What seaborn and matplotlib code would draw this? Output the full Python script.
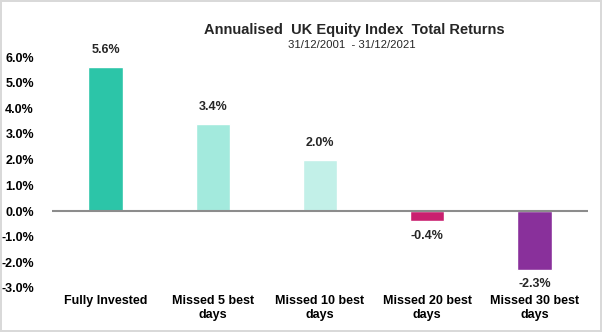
import matplotlib
matplotlib.use("Agg")
import matplotlib.pyplot as plt
import seaborn as sns
import pandas as pd

categories = ["Fully Invested", "Missed 5 best\ndays", "Missed 10 best\ndays",
              "Missed 20 best\ndays", "Missed 30 best\ndays"]
returns = [5.6, 3.4, 2.0, -0.4, -2.3]
colors = ["#2CC5A8", "#A3EADD", "#C2F0E8", "#C9206F", "#89309B"]
y_ticks = [6.0, 5.0, 4.0, 3.0, 2.0, 1.0, 0.0, -1.0, -2.0, -3.0]
title = "Annualised  UK Equity Index  Total Returns"
subtitle = "31/12/2001  - 31/12/2021"

sns.set_theme(style="white")
plt.rcParams["font.family"] = ["Liberation Sans", "DejaVu Sans"]

df = pd.DataFrame({"category": categories, "value": returns})

fig = plt.figure(figsize=(6.02, 3.32), dpi=100)
fig.patch.set_facecolor("white")
fig.patch.set_edgecolor("#D9D9D9")
fig.patch.set_linewidth(1.5)

ax = fig.add_axes([52 / 602, 1 - 288 / 332, (588 - 52) / 602, (288 - 57) / 332])
sns.barplot(data=df, x="category", y="value", hue="category", palette=colors,
            legend=False, width=0.32, ax=ax, saturation=1)

ax.set_xlim(-0.5, 4.5)
ax.set_ylim(-3.0, 6.0)
ax.set_yticks(y_ticks)
ax.set_yticklabels([f"{v:.1f}%" for v in y_ticks], fontweight="bold", fontsize=9)
ax.set_xticks(range(len(categories)))
ax.set_xticklabels(categories, fontweight="bold", fontsize=9, linespacing=1.25)
ax.tick_params(axis="y", length=0, pad=13, colors="black")
ax.tick_params(axis="x", length=0, pad=5, colors="black")
ax.set_xlabel("")
ax.set_ylabel("")
for s in ax.spines.values():
    s.set_visible(False)
ax.axhline(0, color="#8C8C8C", linewidth=1.5, zorder=3)

for i, v in enumerate(returns):
    if v >= 0:
        ax.annotate(f"{v:.1f}%", (i, v), xytext=(0, 8), textcoords="offset points",
                    ha="center", va="bottom", fontsize=9, fontweight="bold")
    else:
        ax.annotate(f"{v:.1f}%", (i, v), xytext=(0, -6), textcoords="offset points",
                    ha="center", va="top", fontsize=9, fontweight="bold")

fig.text(354 / 602, 1 - 30 / 332, title, ha="center", va="center",
         fontsize=10.5, fontweight="bold")
fig.text(352 / 602, 1 - 45 / 332, subtitle, ha="center", va="center",
         fontsize=8.2, fontweight="medium")

fig.savefig("out.png", dpi=100, facecolor=fig.get_facecolor(),
            edgecolor=fig.get_edgecolor())
